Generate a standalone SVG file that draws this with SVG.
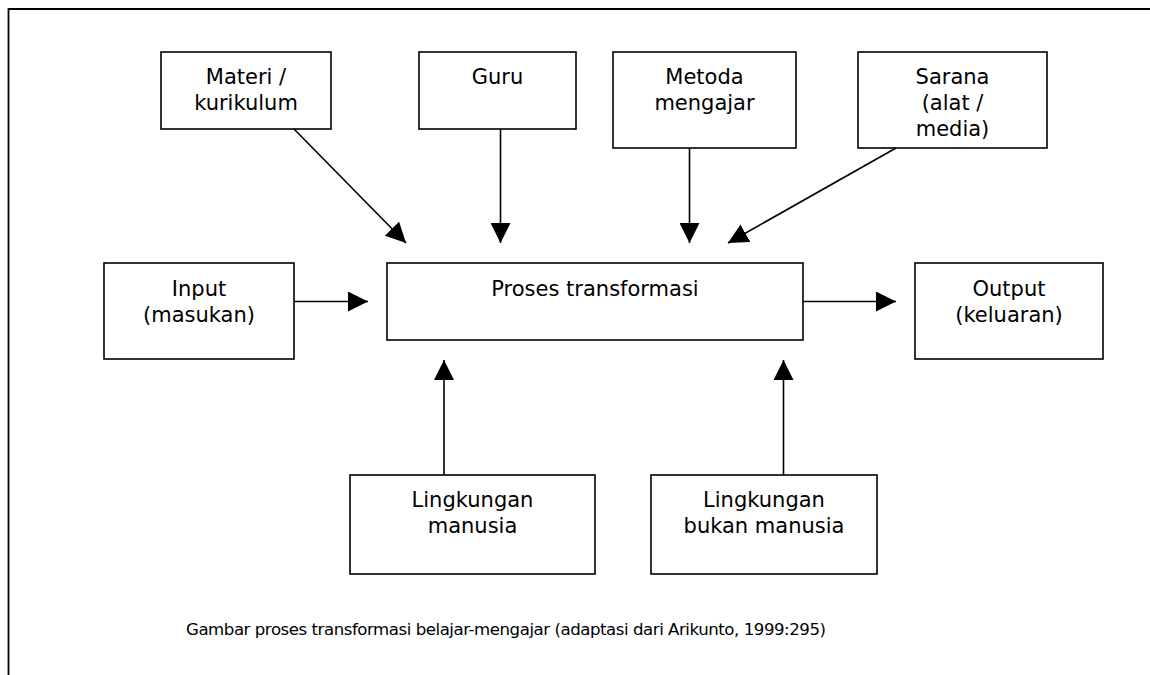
<svg xmlns="http://www.w3.org/2000/svg" width="1150" height="675" viewBox="0 0 1150 675">
<defs>
<style>
.box{fill:#fff;stroke:#000;stroke-width:1.6}
.t{font-family:"DejaVu Sans",Verdana,sans-serif;font-size:21px;fill:#000;text-anchor:middle}
.cap{font-family:"DejaVu Sans",Verdana,sans-serif;font-size:16.6px;fill:#000;text-anchor:middle}
.c{stroke:#000;stroke-width:1.6;fill:none;marker-end:url(#ah)}
.frame{stroke:#000;stroke-width:1.8;fill:none}
</style>
<marker id="ah" markerUnits="userSpaceOnUse" markerWidth="20" markerHeight="20" refX="20" refY="10" orient="auto" viewBox="0 0 20 20">
<path d="M0,0 L20,10 L0,20 Z" fill="#000"/>
</marker>
</defs>
<rect width="1150" height="675" fill="#fff"/>
<path class="frame" d="M8.5,675 L8.5,9 L1150,9"/>

<g id="materi"><rect class="box" x="161" y="52" width="170" height="77"/><text class="t" x="246" y="84">Materi /</text><text class="t" x="246" y="110">kurikulum</text></g>
<g id="guru"><rect class="box" x="419" y="52" width="157" height="77"/><text class="t" x="497.5" y="84">Guru</text></g>
<g id="metoda"><rect class="box" x="613" y="52" width="183" height="96"/><text class="t" x="704.5" y="84">Metoda</text><text class="t" x="704.5" y="110">mengajar</text></g>
<g id="sarana"><rect class="box" x="858" y="52" width="189" height="96"/><text class="t" x="952.5" y="84">Sarana</text><text class="t" x="952.5" y="110">(alat /</text><text class="t" x="952.5" y="136">media)</text></g>
<g id="input"><rect class="box" x="104" y="263" width="190" height="96"/><text class="t" x="199" y="296">Input</text><text class="t" x="199" y="322">(masukan)</text></g>
<g id="proses"><rect class="box" x="387" y="263" width="416" height="77"/><text class="t" x="595" y="296">Proses transformasi</text></g>
<g id="output"><rect class="box" x="915" y="263" width="188" height="96"/><text class="t" x="1009" y="296">Output</text><text class="t" x="1009" y="322">(keluaran)</text></g>
<g id="lingkungan-manusia"><rect class="box" x="350" y="475" width="245" height="99"/><text class="t" x="472.5" y="507">Lingkungan</text><text class="t" x="472.5" y="533">manusia</text></g>
<g id="lingkungan-bukan-manusia"><rect class="box" x="651" y="475" width="226" height="99"/><text class="t" x="764" y="507">Lingkungan</text><text class="t" x="764" y="533">bukan manusia</text></g>

<g id="connectors">
<line class="c" x1="294" y1="129" x2="406" y2="243"/>
<line class="c" x1="500.5" y1="129" x2="500.5" y2="243"/>
<line class="c" x1="689.5" y1="148" x2="689.5" y2="243"/>
<line class="c" x1="896" y1="148" x2="728" y2="243"/>
<line class="c" x1="294" y1="301.5" x2="368" y2="301.5"/>
<line class="c" x1="803" y1="301.5" x2="896" y2="301.5"/>
<line class="c" x1="444" y1="475" x2="444" y2="360"/>
<line class="c" x1="783.5" y1="475" x2="783.5" y2="360"/>
</g>

<text id="caption" class="cap" x="506" y="635" textLength="640" lengthAdjust="spacing">Gambar proses transformasi belajar-mengajar (adaptasi dari Arikunto, 1999:295)</text>
</svg>
